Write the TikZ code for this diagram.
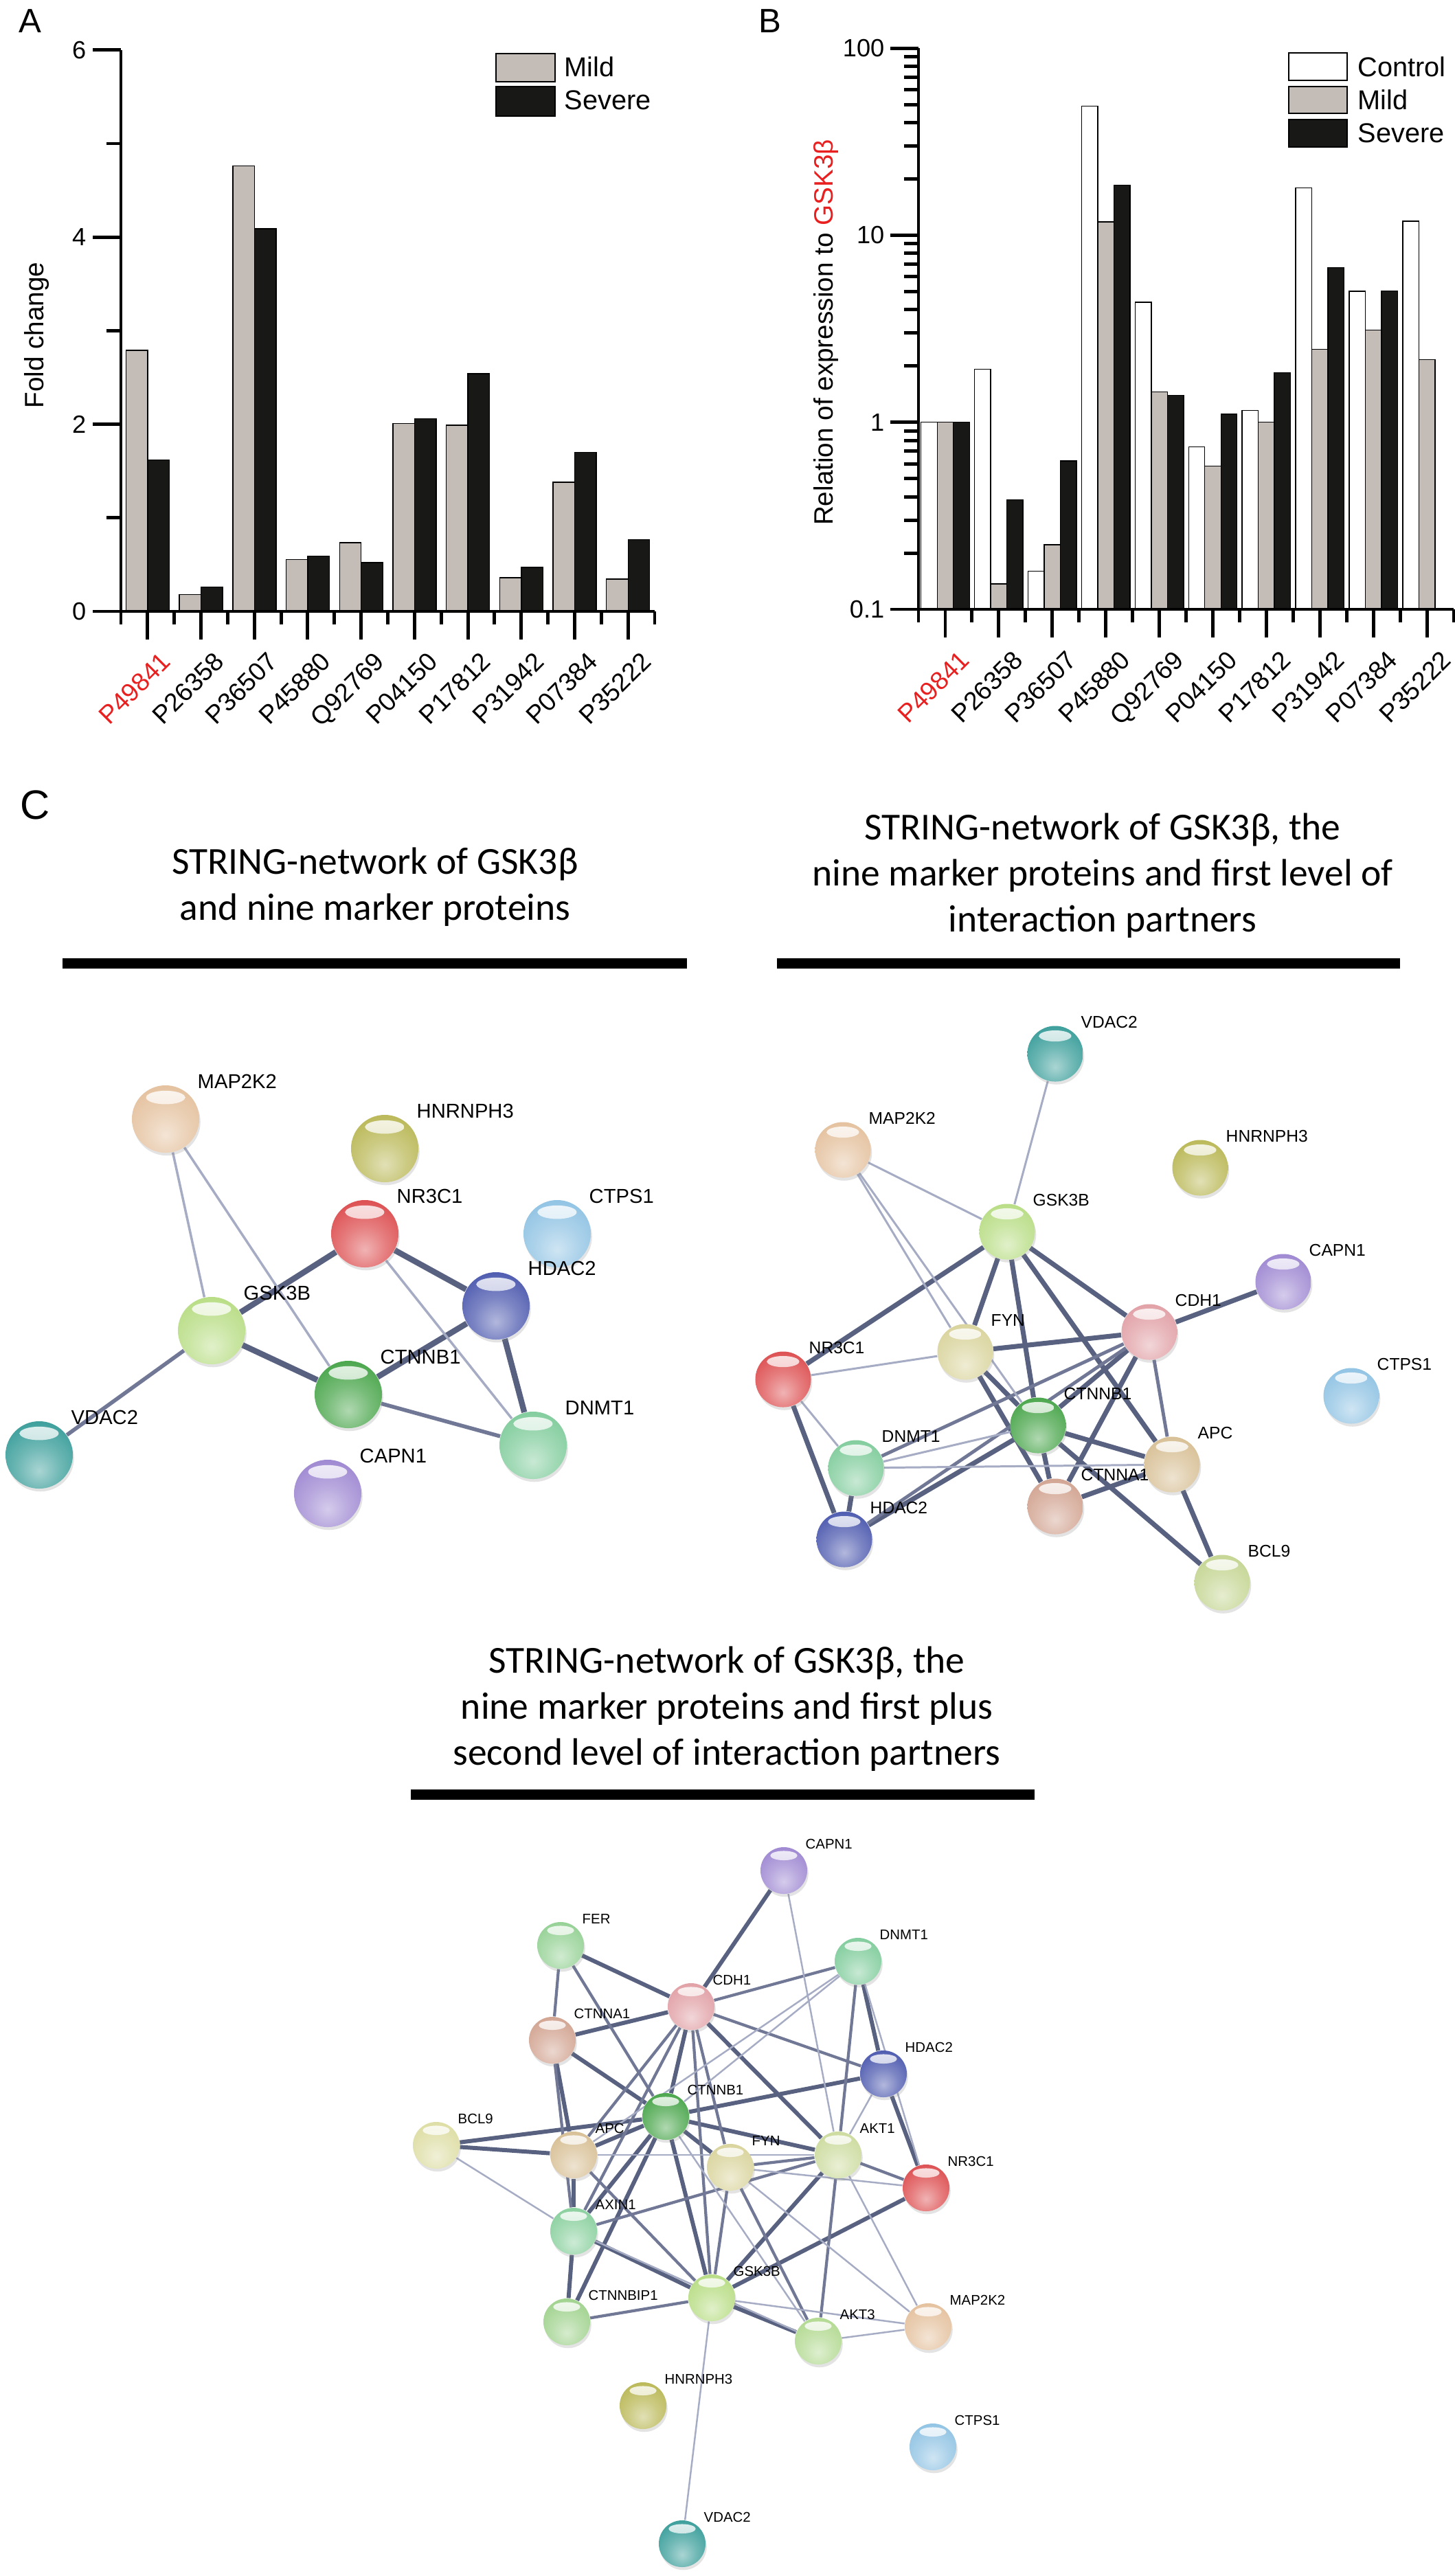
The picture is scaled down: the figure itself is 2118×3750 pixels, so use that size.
\documentclass[tikz,border=0pt]{standalone}
\usepackage{fontspec}
\setmainfont{Liberation Sans}
\newfontfamily\titlefont{Carlito}
\usepackage{tikz}
\usetikzlibrary{shadows}
\pgfdeclarelayer{backdrop}
\pgfdeclarelayer{edges}
\pgfsetlayers{backdrop,edges,main}

\definecolor{mildgrey}{RGB}{196,188,182}
\definecolor{severeblack}{RGB}{24,24,22}
\definecolor{labred}{RGB}{232,32,32}
\definecolor{edgedark}{RGB}{88,98,128}
\definecolor{edgemid}{RGB}{112,120,150}
\definecolor{edgefaint}{RGB}{166,172,196}
% protein colours
\definecolor{cmap}{RGB}{226,188,150}
\definecolor{chnr}{RGB}{180,178,72}
\definecolor{cnr}{RGB}{218,64,66}
\definecolor{cctps}{RGB}{135,190,225}
\definecolor{chdac}{RGB}{62,76,168}
\definecolor{cgsk}{RGB}{178,218,122}
\definecolor{cctnb}{RGB}{58,158,60}
\definecolor{cdnmt}{RGB}{118,200,148}
\definecolor{cvdac}{RGB}{42,150,146}
\definecolor{ccapn}{RGB}{150,126,206}
\definecolor{cfyn}{RGB}{214,208,148}
\definecolor{ccdh}{RGB}{222,152,158}
\definecolor{capc}{RGB}{212,186,140}
\definecolor{cctna}{RGB}{206,156,136}
\definecolor{cbcl}{RGB}{192,210,138}
\definecolor{cfer}{RGB}{140,205,140}
\definecolor{caxin}{RGB}{128,204,150}
\definecolor{cakta}{RGB}{200,216,150}
\definecolor{caktc}{RGB}{172,214,136}
\definecolor{cbip}{RGB}{152,206,132}
\definecolor{cbclb}{RGB}{218,218,156}
\colorlet{protcol}{gray}

\pgfdeclareradialshading[protcol]{protsphere}{\pgfqpoint{0bp}{-12bp}}{%
  color(0bp)=(protcol!40!white);
  color(16bp)=(protcol!68!white);
  color(34bp)=(protcol!92!white);
  color(46bp)=(protcol!85!black);
  color(60bp)=(protcol!60!black);
  color(100bp)=(protcol!60!black)}

\tikzstyle{axisline} = [
  line width=1.4pt,
]
\tikzstyle{barline} = [
  draw=black,
  line width=0.4pt,
]
\tikzstyle{legendbox} = [
  draw=black,
  line width=0.7pt,
]
\tikzstyle{ticklbl} = [
  font=\fontsize{10.3}{12}\selectfont,
  anchor=east,
  inner sep=0pt,
]
\tikzstyle{xlbl} = [
  font=\fontsize{10.6}{12}\selectfont,
  rotate=45,
  anchor=north east,
  inner sep=0pt,
]
\tikzstyle{axistitle} = [
  font=\fontsize{11}{13}\selectfont,
  rotate=90,
  inner sep=0pt,
]
\tikzstyle{legendtxt} = [
  font=\fontsize{11.3}{13}\selectfont,
  anchor=west,
  inner sep=0pt,
]
\tikzstyle{panellbl} = [
  font=\fontsize{14}{16}\selectfont,
  inner sep=0pt,
]
\tikzstyle{titleline} = [
  font=\titlefont\fontsize{15.8}{19}\selectfont,
  anchor=base,
  inner sep=0pt,
]
\tikzstyle{titlebar} = [
  fill=black,
]
\tikzset{
  protball/.style={
    circle,
    inner sep=0pt,
    minimum size=\protsize,
    /utils/exec={\colorlet{protcol}{#1}},
    drop shadow={opacity=0.22, shadow xshift=0.5pt, shadow yshift=-1.2pt},
    shading=protsphere,
    shade,
    path picture={
      \shade[top color=white, bottom color=protcol!45!white, opacity=0.85]
        ([yshift=-0.18*\protsize]path picture bounding box.north)
        ellipse [x radius=0.29*\protsize, y radius=0.1*\protsize];
    },
  },
}

\begin{document}
\begin{tikzpicture}[
    x=0.01cm,
    y=-0.01cm,
  ]
  \useasboundingbox (0,0) rectangle (2118,3750);
  \begin{pgfonlayer}{backdrop}
    \fill[white] (0,0) rectangle (2118,3750);
  \end{pgfonlayer}

  % ---------------- panel A
  \node[panellbl] (lblA) at (44,31) {A};
  \foreach \m/\s [count=\k from 0] in {2.79/1.62, 0.18/0.26, 4.76/4.09,
      0.555/0.59, 0.733/0.52, 2.01/2.06, 1.99/2.54, 0.36/0.47, 1.38/1.70,
      0.345/0.766}{
    \draw[barline, fill=mildgrey] (176+\k*77.7+7.4,890) rectangle ++(31.5,-\m*136.2);
    \draw[barline, fill=severeblack] (176+\k*77.7+38.9,890) rectangle ++(31.5,-\s*136.2);
  }
  \draw[axisline] (176,73) -- (176,890);
  \draw[axisline] (135,890) -- (953,890);
  \foreach \t in {0,2,4,6}{
    \draw[axisline] (135,890-\t*136.2) -- (176,890-\t*136.2);
    \node[ticklbl] (a-tick\t) at (126,890-\t*136.2) {\t};
  }
  \foreach \t in {1,3,5}
    \draw[axisline] (155,890-\t*136.2) -- (176,890-\t*136.2);
  \foreach \k in {0,...,10}
    \draw[axisline] (176+\k*77.7,890) -- ++(0,19);
  \foreach \lab/\col [count=\k from 0] in {P49841/labred, P26358/black,
      P36507/black, P45880/black, Q92769/black, P04150/black, P17812/black,
      P31942/black, P07384/black, P35222/black}{
    \draw[axisline] (176+\k*77.7+38.85,890) -- ++(0,41);
    \node[xlbl, text=\col] (a-x\k) at (176+\k*77.7+56,946) {\lab};
  }
  \node[axistitle] (a-ytitle) at (53,488) {Fold change};
  \draw[legendbox, fill=mildgrey] (722,78) rectangle (808,119);
  \draw[legendbox, fill=severeblack] (722,126) rectangle (808,169);
  \node[legendtxt] (a-mild) at (821,97) {Mild};
  \node[legendtxt] (a-severe) at (821,146) {Severe};

  % ---------------- panel B
  \node[panellbl] (lblB) at (1121,31) {B};
  \foreach \c/\m/\s [count=\k from 0] in {1/1/1, 1.92/0.134/0.386,
      0.159/0.221/0.622, 49/11.8/18.5, 4.38/1.45/1.39, 0.74/0.584/1.106,
      1.155/1.0/1.84, 17.9/2.46/6.71, 5.02/3.11/5.05, 11.9/2.16/0.1}{
    \draw[barline, fill=white] (1337+\k*77.9+3.7,887) rectangle ++(23.5,{-(log10(\c)+1)*272.3});
    \draw[barline, fill=mildgrey] (1337+\k*77.9+27.2,887) rectangle ++(23.5,{-(log10(\m)+1)*272.3});
    \draw[barline, fill=severeblack] (1337+\k*77.9+50.7,887) rectangle ++(23.5,{-(log10(\s)+1)*272.3});
  }
  \draw[axisline] (1337,70) -- (1337,887);
  \draw[axisline] (1296,887) -- (2116,887);
  \foreach \d/\lab in {0/0.1, 1/1, 2/10, 3/100}{
    \draw[axisline] (1296,887-\d*272.3) -- (1337,887-\d*272.3);
    \node[ticklbl] (b-tick\d) at (1288,887-\d*272.3) {\lab};
  }
  \foreach \d in {0,1,2}
    \foreach \n in {2,...,9}
      \draw[axisline] (1316,{887-(\d+log10(\n))*272.3}) -- (1337,{887-(\d+log10(\n))*272.3});
  \foreach \k in {0,...,10}
    \draw[axisline] (1337+\k*77.9,887) -- ++(0,19);
  \foreach \lab/\col [count=\k from 0] in {P49841/labred, P26358/black,
      P36507/black, P45880/black, Q92769/black, P04150/black, P17812/black,
      P31942/black, P07384/black, P35222/black}{
    \draw[axisline] (1337+\k*77.9+38.95,887) -- ++(0,41);
    \node[xlbl, text=\col] (b-x\k) at (1337+\k*77.9+58,944) {\lab};
  }
  \node[axistitle] (b-ytitle) at (1202,484)
    {Relation of expression to \textcolor{labred}{GSK3β}};
  \draw[legendbox, fill=white] (1876,77) rectangle (1961,117);
  \draw[legendbox, fill=mildgrey] (1876,126) rectangle (1961,165);
  \draw[legendbox, fill=severeblack] (1876,174) rectangle (1961,214);
  \node[legendtxt] (b-control) at (1976,97) {Control};
  \node[legendtxt] (b-mild) at (1976,145) {Mild};
  \node[legendtxt] (b-severe) at (1976,194) {Severe};

  % ---------------- panel C titles
  \node[panellbl, font=\fontsize{17}{20}\selectfont] (lblC) at (51,1172) {C};
  \node[titleline] (t-left1) at (546,1272) {STRING-network of GSK3β};
  \node[titleline] (t-left2) at (546,1339) {and nine marker proteins};
  \fill[titlebar] (91,1395) rectangle (1000,1410);
  \node[titleline] (t-right1) at (1605,1222) {STRING-network of GSK3β, the};
  \node[titleline] (t-right2) at (1605,1289) {nine marker proteins and first level of};
  \node[titleline] (t-right3) at (1605,1356) {interaction partners};
  \fill[titlebar] (1131,1395) rectangle (2038,1410);
  \node[titleline] (t-bottom1) at (1058,2435) {STRING-network of GSK3β, the};
  \node[titleline] (t-bottom2) at (1058,2502) {nine marker proteins and first plus};
  \node[titleline] (t-bottom3) at (1058,2569) {second level of interaction partners};
  \fill[titlebar] (598,2605) rectangle (1506,2620);

  % ---------------- network: GSK3B and nine markers
  \def\protsize{0.98cm}
  \begin{scope}[
      protlbl/.style={anchor=west, inner sep=0pt, xshift=0.46cm, yshift=0.05cm,
        font=\fontsize{8.3}{10}\selectfont},
      bigedge/.style={draw=edgedark, line width=2.4pt},
      midedge/.style={draw=edgemid, line width=1.6pt},
      faintedge/.style={draw=edgefaint, line width=1pt},
    ]
    \foreach \nm/\x/\y/\col/\txt in {map2k2/241/1629/cmap/MAP2K2,
        hnrnph3/560/1672/chnr/HNRNPH3, nr3c1/531/1796/cnr/NR3C1,
        ctps1/811/1796/cctps/CTPS1, hdac2/722/1901/chdac/HDAC2,
        gsk3b/308/1937/cgsk/GSK3B, ctnnb1/507/2030/cctnb/CTNNB1,
        dnmt1/776/2104/cdnmt/DNMT1, vdac2/57/2118/cvdac/VDAC2,
        capn1/477/2174/ccapn/CAPN1}
      \node[protball=\col, label={[protlbl]90:\txt}] (tl-\nm) at (\x,\y) {};
    \begin{pgfonlayer}{edges}
      \foreach \a/\b in {gsk3b/nr3c1, gsk3b/ctnnb1, nr3c1/hdac2,
          hdac2/ctnnb1, hdac2/dnmt1}
        \draw[bigedge] (tl-\a) -- (tl-\b);
      \foreach \a/\b in {gsk3b/vdac2, ctnnb1/dnmt1}
        \draw[midedge] (tl-\a) -- (tl-\b);
      \foreach \a/\b in {map2k2/gsk3b, map2k2/ctnnb1, nr3c1/dnmt1}
        \draw[faintedge] (tl-\a) -- (tl-\b);
    \end{pgfonlayer}
  \end{scope}

  % ---------------- network: first level partners
  \def\protsize{0.81cm}
  \begin{scope}[
      protlbl/.style={anchor=west, inner sep=0pt, xshift=0.37cm, yshift=0.05cm,
        font=\fontsize{7}{8.5}\selectfont},
      bigedge/.style={draw=edgedark, line width=2pt},
      midedge/.style={draw=edgemid, line width=1.4pt},
      faintedge/.style={draw=edgefaint, line width=0.85pt},
    ]
    \foreach \nm/\x/\y/\col/\txt in {vdac2/1536/1534/cvdac/VDAC2,
        map2k2/1227/1674/cmap/MAP2K2, hnrnph3/1747/1700/chnr/HNRNPH3,
        gsk3b/1466/1793/cgsk/GSK3B, capn1/1868/1866/ccapn/CAPN1,
        cdh1/1673/1939/ccdh/CDH1, fyn/1405/1968/cfyn/FYN,
        nr3c1/1140/2008/cnr/NR3C1, ctps1/1967/2032/cctps/CTPS1,
        ctnnb1/1511/2075/cctnb/CTNNB1, dnmt1/1246/2137/cdnmt/DNMT1,
        apc/1706/2132/capc/APC, ctnna1/1536/2193/cctna/CTNNA1,
        hdac2/1229/2241/chdac/HDAC2, bcl9/1779/2304/cbcl/BCL9}
      \node[protball=\col, label={[protlbl]90:\txt}] (tr-\nm) at (\x,\y) {};
    \begin{pgfonlayer}{edges}
      \foreach \a/\b in {gsk3b/nr3c1, gsk3b/fyn, gsk3b/ctnnb1, gsk3b/apc,
          gsk3b/cdh1, cdh1/capn1, cdh1/fyn, cdh1/ctnnb1, cdh1/ctnna1,
          fyn/ctnnb1, fyn/ctnna1, nr3c1/hdac2, dnmt1/hdac2, hdac2/ctnnb1,
          ctnnb1/apc, ctnnb1/ctnna1, ctnnb1/bcl9, ctnna1/apc, apc/bcl9}
        \draw[bigedge] (tr-\a) -- (tr-\b);
      \foreach \a/\b in {cdh1/dnmt1, cdh1/hdac2, cdh1/apc}
        \draw[midedge] (tr-\a) -- (tr-\b);
      \foreach \a/\b in {vdac2/gsk3b, map2k2/gsk3b, map2k2/fyn,
          map2k2/ctnnb1, nr3c1/fyn, nr3c1/dnmt1, dnmt1/apc, dnmt1/ctnnb1}
        \draw[faintedge] (tr-\a) -- (tr-\b);
    \end{pgfonlayer}
  \end{scope}

  % ---------------- network: first plus second level partners
  \def\protsize{0.68cm}
  \begin{scope}[
      protlbl/.style={anchor=west, inner sep=0pt, xshift=0.31cm, yshift=0.04cm,
        font=\fontsize{5.8}{7}\selectfont},
      bigedge/.style={draw=edgedark, line width=1.7pt},
      midedge/.style={draw=edgemid, line width=1.2pt},
      faintedge/.style={draw=edgefaint, line width=0.7pt},
    ]
    \foreach \nm/\x/\y/\col/\txt in {capn1/1141/2723/ccapn/CAPN1,
        fer/816/2832/cfer/FER, dnmt1/1249/2855/cdnmt/DNMT1,
        cdh1/1006/2921/ccdh/CDH1, ctnna1/804/2970/cctna/CTNNA1,
        hdac2/1286/3019/chdac/HDAC2, ctnnb1/969/3081/cctnb/CTNNB1,
        bcl9/635/3123/cbclb/BCL9, apc/835/3137/capc/APC,
        fyn/1063/3155/cfyn/FYN, akt1/1220/3137/cakta/AKT1,
        nr3c1/1348/3185/cnr/NR3C1, axin1/835/3248/caxin/AXIN1,
        gsk3b/1036/3345/cgsk/GSK3B, ctnnbip1/825/3380/cbip/CTNNBIP1,
        akt3/1191/3408/caktc/AKT3, map2k2/1351/3387/cmap/MAP2K2,
        hnrnph3/936/3502/chnr/HNRNPH3, ctps1/1358/3562/cctps/CTPS1,
        vdac2/993/3703/cvdac/VDAC2}
      \node[protball=\col, label={[protlbl]90:\txt}] (bt-\nm) at (\x,\y) {};
    \begin{pgfonlayer}{edges}
      \foreach \a/\b in {capn1/cdh1, fer/cdh1, cdh1/ctnna1, cdh1/ctnnb1,
          cdh1/akt1, ctnna1/ctnnb1, ctnna1/apc, ctnnb1/hdac2, ctnnb1/bcl9,
          ctnnb1/apc, ctnnb1/fyn, ctnnb1/akt1, ctnnb1/axin1, ctnnb1/gsk3b,
          ctnnb1/ctnnbip1, bcl9/apc, apc/axin1, axin1/ctnnbip1, axin1/gsk3b,
          hdac2/nr3c1, dnmt1/hdac2, nr3c1/gsk3b, gsk3b/akt3, akt1/gsk3b}
        \draw[bigedge] (bt-\a) -- (bt-\b);
      \foreach \a/\b in {fer/ctnna1, fer/ctnnb1, dnmt1/cdh1, dnmt1/akt1,
          cdh1/hdac2, cdh1/fyn, cdh1/apc, cdh1/axin1, cdh1/gsk3b,
          ctnna1/axin1, apc/gsk3b, fyn/akt1, fyn/gsk3b, fyn/akt3,
          akt1/nr3c1, akt1/akt3, gsk3b/ctnnbip1, axin1/akt1}
        \draw[midedge] (bt-\a) -- (bt-\b);
      \foreach \a/\b in {capn1/akt1, dnmt1/nr3c1, dnmt1/ctnnb1, dnmt1/apc,
          bcl9/axin1, apc/akt1, akt1/hdac2, fyn/map2k2, akt1/map2k2,
          fyn/nr3c1, axin1/akt3, gsk3b/map2k2, akt3/map2k2, gsk3b/vdac2,
          ctnnb1/akt3}
        \draw[faintedge] (bt-\a) -- (bt-\b);
    \end{pgfonlayer}
  \end{scope}
\end{tikzpicture}
\end{document}
